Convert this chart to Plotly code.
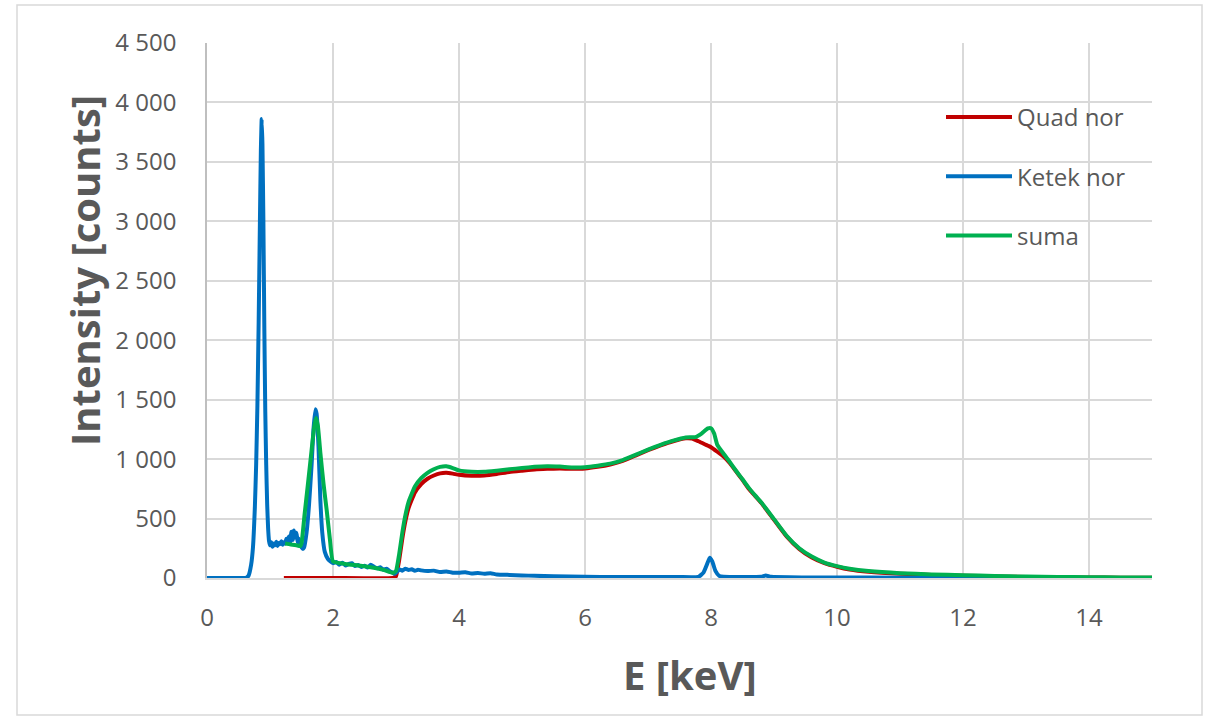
import plotly.graph_objects as go

# ---------------- data ----------------
quad_x = [1.22, 2.0, 2.95, 3.0, 3.05, 3.1, 3.15, 3.2, 3.3, 3.4, 3.5, 3.6, 3.7, 3.8, 3.9,
          4.0, 4.2, 4.4, 4.6, 4.8, 5.0, 5.2, 5.4, 5.6, 5.8, 6.0, 6.2, 6.4, 6.6, 6.8,
          7.0, 7.2, 7.4, 7.6, 7.7, 7.8, 7.9, 8.0, 8.1, 8.2, 8.3, 8.4, 8.5, 8.6, 8.7,
          8.8, 8.9, 9.0, 9.2, 9.4, 9.6, 9.8, 10.0, 10.2, 10.5, 11.0, 11.5, 12.0, 12.5,
          13.0, 13.5, 14.0, 14.5, 15.0]
quad_y = [0, 0, 0, 15, 150, 330, 480, 590, 720, 790, 835, 862, 880, 885, 878,
          868, 860, 862, 875, 892, 903, 913, 918, 920, 918, 921, 935, 955, 985, 1030,
          1075, 1115, 1150, 1175, 1172, 1150, 1125, 1100, 1062, 1022, 965, 895, 825, 750, 690,
          630, 560, 490, 350, 245, 172, 125, 95, 72, 53, 36, 26, 19, 13,
          9, 6, 4, 3, 2]

ketek_x = [0.0, 0.55, 0.62, 0.66, 0.70, 0.73, 0.76, 0.78, 0.80, 0.82, 0.84, 0.855, 0.868,
           0.88, 0.895, 0.91, 0.925, 0.94, 0.955, 0.97, 0.985, 1.0, 1.02, 1.04, 1.06, 1.08,
           1.10, 1.12, 1.14, 1.16, 1.18, 1.20, 1.22, 1.24, 1.26, 1.28, 1.30, 1.32, 1.34,
           1.36, 1.38, 1.40, 1.42, 1.44, 1.46, 1.48, 1.50, 1.52, 1.54, 1.58, 1.62, 1.66,
           1.69, 1.72, 1.74, 1.77, 1.80, 1.83, 1.87, 1.92, 1.96, 2.0, 2.05, 2.1, 2.15, 2.2,
           2.25, 2.3, 2.35, 2.4, 2.45, 2.5, 2.55, 2.6, 2.65, 2.7, 2.75, 2.8, 2.85, 2.9,
           2.95, 2.98, 3.02, 3.06, 3.1, 3.15, 3.2, 3.25, 3.3, 3.35, 3.4, 3.5, 3.6, 3.7,
           3.8, 3.9, 4.0, 4.1, 4.2, 4.3, 4.4, 4.5, 4.6, 4.8, 5.0, 5.2, 5.5, 6.0, 6.5, 7.0,
           7.5, 7.8, 7.88, 7.94, 7.98, 8.02, 8.07, 8.13, 8.2, 8.5, 8.8, 8.87, 8.95, 9.5,
           10.0, 11.0, 12.0, 13.0, 14.0, 15.0]
ketek_y = [0, 0, 2, 20, 110, 260, 600, 950, 1450, 2150, 3000, 3600, 3860,
           3650, 3000, 2100, 1400, 950, 620, 420, 310, 275, 300, 262, 290, 275,
           305, 270, 295, 285, 310, 280, 300, 290, 330, 310, 350, 300, 390,
           320, 400, 340, 380, 300, 330, 270, 260, 245, 255, 380, 620, 950,
           1250, 1420, 1380, 1100, 650, 380, 220, 160, 140, 125, 135, 112, 128, 105,
           118, 125, 100, 110, 92, 104, 88, 112, 95, 82, 90, 70, 78, 58,
           45, 35, 55, 72, 62, 78, 68, 74, 60, 70, 64, 58, 62, 50,
           55, 45, 44, 48, 38, 42, 36, 40, 30, 26, 22, 18, 14, 10, 8, 8,
           8, 10, 45, 120, 170, 140, 60, 18, 10, 8, 10, 22, 10, 5,
           4, 3, 2, 2, 1, 1]

suma_x = [1.24, 1.30, 1.36, 1.42, 1.48, 1.50, 1.55, 1.60, 1.65, 1.70, 1.73, 1.76, 1.80,
          1.85, 1.90, 1.95, 2.0, 2.2, 2.4, 2.6, 2.8, 2.95, 3.0, 3.05, 3.1, 3.15, 3.2,
          3.3, 3.4, 3.5, 3.6, 3.7, 3.8, 3.9, 4.0, 4.2, 4.4, 4.6, 4.8, 5.0, 5.2, 5.4,
          5.6, 5.8, 6.0, 6.2, 6.4, 6.6, 6.8, 7.0, 7.2, 7.4, 7.6, 7.75, 7.85, 7.95, 8.0,
          8.05, 8.1, 8.2, 8.3, 8.4, 8.5, 8.6, 8.7, 8.8, 8.9, 9.0, 9.2, 9.4, 9.6, 9.8,
          10.0, 10.2, 10.5, 11.0, 11.5, 12.0, 12.5, 13.0, 13.5, 14.0, 14.5, 15.0]
suma_y = [290, 285, 280, 275, 268, 290, 540, 780, 1025, 1265, 1345, 1280, 1050,
          790, 570, 330, 140, 118, 105, 90, 68, 42, 60, 200, 380, 530, 640,
          770, 840, 885, 915, 935, 940, 925, 905, 893, 893, 903, 915, 925, 935, 940,
          937, 930, 932, 945, 962, 992, 1035, 1080, 1120, 1155, 1182, 1185, 1215, 1258, 1260,
          1215, 1120, 1045, 975, 900, 830, 758, 695, 635, 565, 495, 355, 250, 180, 130,
          100, 78, 58, 40, 30, 24, 17, 12, 9, 6, 5, 4]

series_names = ["Quad nor", "Ketek nor", "suma"]
series_colors = ["#C00000", "#0070C0", "#00B050"]

y_tick_vals = [0, 500, 1000, 1500, 2000, 2500, 3000, 3500, 4000, 4500]
y_tick_labels = ["0", "500", "1 000", "1 500", "2 000", "2 500", "3 000", "3 500", "4 000", "4 500"]
x_tick_vals = [0, 2, 4, 6, 8, 10, 12, 14]
x_tick_labels = ["0", "2", "4", "6", "8", "10", "12", "14"]

x_title = "E [keV]"
y_title = "Intensity [counts]"

# ---------------- figure ----------------
W, H = 1213, 717
L, R, T, B = 207, 61, 43, 139
PW, PH = W - L - R, H - T - B

def px_x(p):
    return (p - L) / PW

def px_y(p):
    return (H - B - p) / PH

TEXT = "#595959"
GRID = "#D9D9D9"
FONT = "Open Sans"

fig = go.Figure()
for name, xs, ys, col in zip(series_names, [quad_x, ketek_x, suma_x],
                             [quad_y, ketek_y, suma_y], series_colors):
    fig.add_trace(go.Scatter(x=xs, y=ys, mode="lines", name=name, legendgroup=name,
                             line=dict(color=col, width=4, shape="spline", smoothing=0.4)))

fig.update_layout(
    width=W, height=H,
    margin=dict(l=L, r=R, t=T, b=B, pad=0),
    paper_bgcolor="white", plot_bgcolor="white",
    font=dict(family=FONT, color=TEXT, size=24),
    showlegend=True,
    legend=dict(x=px_x(941), y=px_y(95), xanchor="left", yanchor="top",
                bgcolor="rgba(0,0,0,0)", font=dict(size=24, color=TEXT, family=FONT),
                tracegroupgap=25, itemwidth=66),
    xaxis=dict(range=[0, 15], tickvals=x_tick_vals, ticktext=x_tick_labels,
               showgrid=True, gridcolor=GRID, gridwidth=1.5,
               showline=True, linecolor=GRID, linewidth=1.5,
               zeroline=False, ticks="", ticklabelstandoff=17,
               tickfont=dict(size=24, color=TEXT, family=FONT)),
    yaxis=dict(range=[0, 4500], tickvals=y_tick_vals, ticktext=y_tick_labels,
               showgrid=True, gridcolor=GRID, gridwidth=1.5,
               showline=True, linecolor="#BFBFBF", linewidth=1.5,
               zeroline=False, ticks="", ticklabelstandoff=24,
               tickfont=dict(size=24, color=TEXT, family=FONT)),
    shapes=[dict(type="rect", xref="paper", yref="paper",
                 x0=px_x(17), x1=px_x(1202), y0=px_y(715), y1=px_y(5),
                 line=dict(color=GRID, width=1.5), fillcolor="rgba(0,0,0,0)", layer="below")],
    annotations=[
        dict(text=y_title, xref="paper", yref="paper", x=px_x(84), y=px_y(270),
             xanchor="center", yanchor="middle", textangle=-90, showarrow=False,
             font=dict(family=FONT, size=40, color=TEXT, weight="bold")),
        dict(text=x_title, xref="paper", yref="paper", x=px_x(690), y=px_y(674),
             xanchor="center", yanchor="middle", showarrow=False,
             font=dict(family=FONT, size=40, color=TEXT, weight="bold")),
    ],
)

fig.write_html("out.html", config={"displayModeBar": False},
               post_script="document.body.style.margin='0';document.body.style.overflow='hidden';")
